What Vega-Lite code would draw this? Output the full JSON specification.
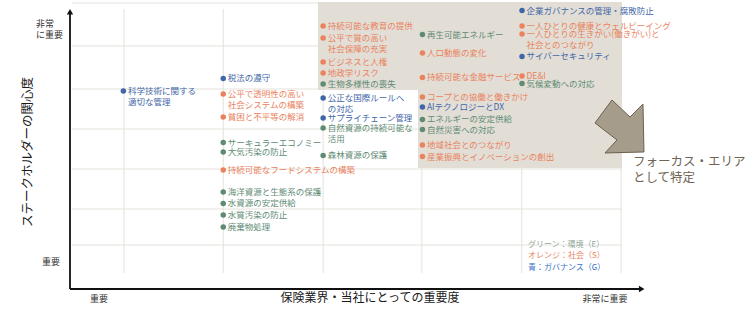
{
  "$schema": "https://vega.github.io/schema/vega-lite/v6.json",
  "width": 574,
  "height": 280,
  "autosize": "none",
  "padding": {"left": 70, "top": 9, "right": 106, "bottom": 22},
  "background": "white",
  "config": {"view": {"stroke": null}, "text": {"font": "Noto Sans CJK JP"}},
  "datasets": {
    "gridV": [{"x": 9.4}, {"x": 26.7}, {"x": 44.1}, {"x": 61.3}, {"x": 78.7}, {"x": 96.0}],
    "gridH": [{"y": 102.14}, {"y": 86.79}, {"y": 71.43}, {"y": 57.14}, {"y": 42.86}, {"y": 28.57}, {"y": 15.71}],
    "focus": [
      {"x": 43.21, "x2": 96.17, "y": 102.5, "y2": 71.07},
      {"x": 60.63, "x2": 96.17, "y": 71.07, "y2": 43.21}
    ],
    "items": [
      {"label": "科学技術に関する\n適切な管理", "cat": "G", "x": 9.3, "y": 70.71},
      {"label": "税法の遵守", "cat": "G", "x": 26.7, "y": 75.18},
      {"label": "公平で透明性の高い\n社会システムの構築", "cat": "S", "x": 26.7, "y": 69.64},
      {"label": "貧困と不平等の解消", "cat": "S", "x": 26.7, "y": 61.43},
      {"label": "サーキュラーエコノミー", "cat": "E", "x": 26.7, "y": 52.32},
      {"label": "大気汚染の防止", "cat": "E", "x": 26.7, "y": 48.93},
      {"label": "持続可能なフードシステムの構築", "cat": "S", "x": 26.7, "y": 42.5},
      {"label": "海洋資源と生態系の保護", "cat": "E", "x": 26.7, "y": 34.64},
      {"label": "水資源の安定供給", "cat": "E", "x": 26.7, "y": 30.54},
      {"label": "水質汚染の防止", "cat": "E", "x": 26.7, "y": 26.43},
      {"label": "廃棄物処理", "cat": "E", "x": 26.7, "y": 22.14},
      {"label": "持続可能な教育の提供", "cat": "S", "x": 44.1, "y": 93.93},
      {"label": "公平で質の高い\n社会保障の充実", "cat": "S", "x": 44.1, "y": 89.64},
      {"label": "ビジネスと人権", "cat": "S", "x": 44.1, "y": 81.07},
      {"label": "地政学リスク", "cat": "S", "x": 44.1, "y": 77.14},
      {"label": "生物多様性の喪失", "cat": "E", "x": 44.1, "y": 73.21},
      {"label": "公正な国際ルールへ\nの対応", "cat": "G", "x": 44.1, "y": 68.21},
      {"label": "サプライチェーン管理", "cat": "G", "x": 44.1, "y": 61.07},
      {"label": "自然資源の持続可能な\n活用", "cat": "E", "x": 44.1, "y": 57.5},
      {"label": "森林資源の保護", "cat": "E", "x": 44.1, "y": 47.68},
      {"label": "再生可能エネルギー", "cat": "E", "x": 61.4, "y": 90.89},
      {"label": "人口動態の変化", "cat": "S", "x": 61.4, "y": 84.29},
      {"label": "持続可能な金融サービス", "cat": "S", "x": 61.4, "y": 75.54},
      {"label": "コープとの協働と働きかけ", "cat": "S", "x": 61.4, "y": 68.57},
      {"label": "AIテクノロジーとDX", "cat": "G", "x": 61.4, "y": 65.0},
      {"label": "エネルギーの安定供給", "cat": "E", "x": 61.4, "y": 60.54},
      {"label": "自然災害への対応", "cat": "E", "x": 61.4, "y": 56.96},
      {"label": "地域社会とのつながり", "cat": "S", "x": 61.4, "y": 51.43},
      {"label": "産業振興とイノベーションの創出", "cat": "S", "x": 61.4, "y": 47.32},
      {"label": "企業ガバナンスの管理・腐敗防止", "cat": "G", "x": 78.75, "y": 99.46},
      {"label": "一人ひとりの健康とウェルビーイング", "cat": "S", "x": 78.75, "y": 93.93},
      {"label": "一人ひとりの生きがい(働きがい)と\n社会とのつながり", "cat": "S", "x": 78.75, "y": 91.07},
      {"label": "サイバーセキュリティ", "cat": "G", "x": 78.75, "y": 83.04},
      {"label": "DE&I", "cat": "S", "x": 78.75, "y": 76.07},
      {"label": "気候変動への対応", "cat": "E", "x": 78.75, "y": 73.39}
    ],
    "legendText": [
      {"label": "グリーン：環境（E）", "cat": "E", "x": 79.79, "y": 15.71},
      {"label": "オレンジ：社会（S）", "cat": "S", "x": 79.79, "y": 11.79},
      {"label": "青：ガバナンス（G）", "cat": "G", "x": 79.79, "y": 7.5}
    ],
    "tickLabels": [
      {"label": "重要", "x": 5.05, "y": -3.9},
      {"label": "非常に重要", "x": 93.2, "y": -3.6},
      {"label": "重要", "x": -3.3, "y": 9.64}
    ],
    "yTop": [{"label": "非常\nに重要", "x": -5.92, "y": 94.29}],
    "yTitle": [{"label": "ステークホルダーの関心度", "x": -7.32, "y": 48.93}],
    "xTitle": [{"label": "保険業界・当社にとっての重要度", "x": 52.26, "y": -3.57}],
    "focusText": [{"label": "フォーカス・エリア\nとして特定", "x": 98.08, "y": 45.36}],
    "arrow": [{"x": 95.73, "y": 58.04}]
  },
  "resolve": {"scale": {"color": "independent"}},
  "layer": [
    {
      "data": {"name": "gridV"},
      "mark": {"type": "rule", "color": "#e6e2da", "strokeWidth": 1},
      "encoding": {
        "x": {"field": "x", "type": "quantitative", "scale": {"domain": [0, 100], "nice": false, "zero": false}, "axis": null},
        "y": {"datum": 5.71, "type": "quantitative", "scale": {"domain": [0, 100], "nice": false, "zero": false}, "axis": null},
        "y2": {"datum": 100}
      }
    },
    {
      "data": {"name": "gridH"},
      "mark": {"type": "rule", "color": "#e6e2da", "strokeWidth": 1},
      "encoding": {
        "y": {"field": "y", "type": "quantitative", "axis": null},
        "x": {"datum": 0.35, "type": "quantitative", "axis": null},
        "x2": {"datum": 96.17}
      }
    },
    {
      "data": {"name": "focus"},
      "mark": {"type": "rect", "color": "#e2ded6"},
      "encoding": {
        "x": {"field": "x", "type": "quantitative", "axis": null},
        "x2": {"field": "x2"},
        "y": {"field": "y", "type": "quantitative", "axis": null},
        "y2": {"field": "y2"}
      }
    },
    {
      "data": {"name": "arrow"},
      "mark": {
        "type": "point",
        "shape": "M-0.907,-0.13 L-0.278,-0.981 L0.389,-0.352 L0.87,-0.833 L0.907,0.944 L-0.537,0.981 L-0.093,0.5 Z",
        "size": 2916,
        "filled": true,
        "fill": "#a69c8c",
        "stroke": "#6b604f",
        "strokeWidth": 1,
        "opacity": 1
      },
      "encoding": {
        "x": {"field": "x", "type": "quantitative", "axis": null},
        "y": {"field": "y", "type": "quantitative", "axis": null}
      }
    },
    {
      "data": {"values": [{}]},
      "mark": {"type": "rule", "color": "#111111", "strokeWidth": 1.8},
      "encoding": {
        "x": {"datum": 0, "type": "quantitative", "axis": null},
        "y": {"datum": 0, "type": "quantitative", "axis": null},
        "y2": {"datum": 98.5}
      }
    },
    {
      "data": {"values": [{}]},
      "mark": {"type": "rule", "color": "#111111", "strokeWidth": 1.8},
      "encoding": {
        "y": {"datum": 0, "type": "quantitative", "axis": null},
        "x": {"datum": 0, "type": "quantitative", "axis": null},
        "x2": {"datum": 99.2}
      }
    },
    {
      "data": {"values": [{"x": 0, "y": 99.0}]},
      "mark": {"type": "point", "shape": "triangle-up", "size": 40, "filled": true, "color": "#111111", "opacity": 1},
      "encoding": {
        "x": {"field": "x", "type": "quantitative", "axis": null},
        "y": {"field": "y", "type": "quantitative", "axis": null}
      }
    },
    {
      "data": {"values": [{"x": 99.6, "y": 0}]},
      "mark": {"type": "point", "shape": "triangle-right", "size": 40, "filled": true, "color": "#111111", "opacity": 1},
      "encoding": {
        "x": {"field": "x", "type": "quantitative", "axis": null},
        "y": {"field": "y", "type": "quantitative", "axis": null}
      }
    },
    {
      "data": {"name": "items"},
      "layer": [
        {
          "mark": {"type": "point", "shape": "circle", "filled": true, "size": 30, "opacity": 1},
          "encoding": {
            "x": {"field": "x", "type": "quantitative", "axis": null},
            "y": {"field": "y", "type": "quantitative", "axis": null},
            "color": {"field": "cat", "type": "nominal", "scale": {"domain": ["E", "S", "G"], "range": ["#5e8b74", "#e9825d", "#3f67a8"]}, "legend": null}
          }
        },
        {
          "mark": {"type": "text", "align": "left", "baseline": "top", "dx": 4.5, "dy": -4, "fontSize": 8.5, "lineBreak": "\n", "lineHeight": 11},
          "encoding": {
            "x": {"field": "x", "type": "quantitative", "axis": null},
            "y": {"field": "y", "type": "quantitative", "axis": null},
            "text": {"field": "label"},
            "color": {"field": "cat", "type": "nominal", "scale": {"domain": ["E", "S", "G"], "range": ["#5e8b74", "#e9825d", "#3f67a8"]}, "legend": null}
          }
        }
      ]
    },
    {
      "data": {"name": "legendText"},
      "mark": {"type": "text", "align": "left", "baseline": "top", "dy": -4, "fontSize": 8},
      "encoding": {
        "x": {"field": "x", "type": "quantitative", "axis": null},
        "y": {"field": "y", "type": "quantitative", "axis": null},
        "text": {"field": "label"},
        "color": {"field": "cat", "type": "nominal", "scale": {"domain": ["E", "S", "G"], "range": ["#8fa99a", "#e9825d", "#3a6fc4"]}, "legend": null}
      }
    },
    {
      "data": {"name": "tickLabels"},
      "mark": {"type": "text", "align": "center", "baseline": "top", "dy": -4.5, "fontSize": 9, "color": "#333333"},
      "encoding": {
        "x": {"field": "x", "type": "quantitative", "axis": null},
        "y": {"field": "y", "type": "quantitative", "axis": null},
        "text": {"field": "label"}
      }
    },
    {
      "data": {"name": "yTop"},
      "mark": {"type": "text", "align": "left", "baseline": "top", "dy": -4.5, "fontSize": 9, "color": "#333333", "lineBreak": "\n", "lineHeight": 11},
      "encoding": {
        "x": {"field": "x", "type": "quantitative", "axis": null},
        "y": {"field": "y", "type": "quantitative", "axis": null},
        "text": {"field": "label"}
      }
    },
    {
      "data": {"name": "yTitle"},
      "mark": {"type": "text", "align": "center", "baseline": "middle", "angle": 270, "fontSize": 12.5, "color": "#1a1a1a"},
      "encoding": {
        "x": {"field": "x", "type": "quantitative", "axis": null},
        "y": {"field": "y", "type": "quantitative", "axis": null},
        "text": {"field": "label"}
      }
    },
    {
      "data": {"name": "xTitle"},
      "mark": {"type": "text", "align": "center", "baseline": "top", "dy": -6, "fontSize": 12, "color": "#1a1a1a"},
      "encoding": {
        "x": {"field": "x", "type": "quantitative", "axis": null},
        "y": {"field": "y", "type": "quantitative", "axis": null},
        "text": {"field": "label"}
      }
    },
    {
      "data": {"name": "focusText"},
      "mark": {"type": "text", "align": "left", "baseline": "top", "dy": -5.5, "fontSize": 12.5, "color": "#6f6455", "lineBreak": "\n", "lineHeight": 16},
      "encoding": {
        "x": {"field": "x", "type": "quantitative", "axis": null},
        "y": {"field": "y", "type": "quantitative", "axis": null},
        "text": {"field": "label"}
      }
    }
  ]
}
